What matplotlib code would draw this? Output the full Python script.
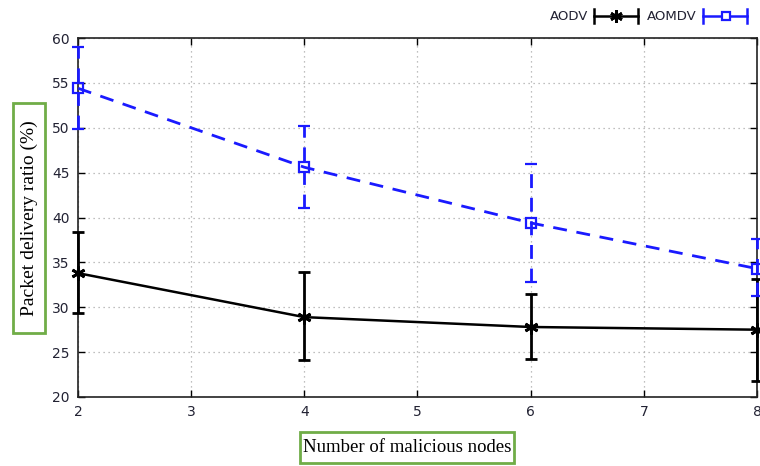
import matplotlib
matplotlib.use("Agg")
import matplotlib.pyplot as plt
from matplotlib.lines import Line2D
from matplotlib.patches import Rectangle

x = [2, 4, 6, 8]
aodv = [33.8, 28.9, 27.8, 27.5]
aodv_lo = [29.4, 24.1, 24.2, 21.8]
aodv_hi = [38.4, 33.9, 31.5, 33.1]
aomdv = [54.4, 45.6, 39.4, 34.3]
aomdv_lo = [49.9, 41.1, 32.8, 31.2]
aomdv_hi = [59.0, 50.2, 46.0, 37.6]
xticks = [2, 3, 4, 5, 6, 7, 8]
yticks = [20, 25, 30, 35, 40, 45, 50, 55, 60]

W, H = 760, 466
fig = plt.figure(figsize=(7.6, 4.66), dpi=100)
ax = fig.add_axes([78 / W, 69 / H, 679 / W, 359 / H])

blue = "#1a1aff"
green = "#70ad47"
dash = (0, (5, 3.5))

def errs(v, lo, hi):
    return [[a - b for a, b in zip(v, lo)], [c - a for a, c in zip(v, hi)]]

e1 = ax.errorbar(x, aodv, yerr=errs(aodv, aodv_lo, aodv_hi), color="black", lw=1.8,
                 marker=(6, 2, 0), ms=10, mew=2, capsize=4, capthick=2, elinewidth=2,
                 zorder=3, clip_on=False)
e2 = ax.errorbar(x, aomdv, yerr=errs(aomdv, aomdv_lo, aomdv_hi), color=blue, lw=2,
                 ls=dash, marker="s", ms=6.5, mfc="none", mew=1.6, capsize=4,
                 capthick=2, elinewidth=2, zorder=3, clip_on=False)
for bar in e2[2]:
    bar.set_linestyle(dash)

ax.set_xlim(2, 8)
ax.set_ylim(20, 60)
ax.set_xticks(xticks)
ax.set_yticks(yticks)
ax.tick_params(direction="in", top=True, right=True, length=5, width=1,
               labelsize=10, labelcolor="#222233", pad=6)
ax.grid(True, ls=(0, (1, 3)), color="#aaaaaa", lw=0.9)
for s in ax.spines.values():
    s.set_linewidth(1.2)
    s.set_color("#222222")

# axis titles with green frames
fig.text(29 / W, 1 - 218 / H, "Packet delivery ratio (%)", family="Liberation Serif",
         fontsize=14, rotation=90, ha="center", va="center")
fig.add_artist(Rectangle((13 / W, 1 - 333 / H), 32 / W, 230 / H, fill=False,
                         ec=green, lw=2, transform=fig.transFigure))
fig.text(407 / W, 1 - 448 / H, "Number of malicious nodes", family="Liberation Serif",
         fontsize=13.5, ha="center", va="center")
fig.add_artist(Rectangle((300 / W, 1 - 463 / H), 214 / W, 31 / H, fill=False,
                         ec=green, lw=2, transform=fig.transFigure))

# gnuplot-style key above plot
ky = 1 - 16 / H
k0, k1 = 1 - 9 / H, 1 - 23 / H
fig.text(588 / W, ky, "AODV", fontsize=9.5, color="#222233", ha="right", va="center")
fig.add_artist(Line2D([594 / W, 638 / W], [ky, ky], color="black", lw=1.8,
                      transform=fig.transFigure))
fig.add_artist(Line2D([616 / W], [ky], color="black", marker=(6, 2, 0), ms=9, mew=2,
                      transform=fig.transFigure))
for xx in (594, 638):
    fig.add_artist(Line2D([xx / W, xx / W], [k1, k0], color="black", lw=1.8,
                          transform=fig.transFigure))
fig.text(697 / W, ky, "AOMDV", fontsize=9.5, color="#222233", ha="right", va="center")
fig.add_artist(Line2D([703 / W, 747 / W], [ky, ky], color=blue, lw=1.8,
                      transform=fig.transFigure))
fig.add_artist(Line2D([726 / W], [ky], color=blue, marker="s", mfc="white",
                      ms=6, mew=1.6, transform=fig.transFigure))
for xx in (703, 747):
    fig.add_artist(Line2D([xx / W, xx / W], [k1, k0], color=blue, lw=1.8,
                          transform=fig.transFigure))

fig.savefig("out.png", dpi=100)
